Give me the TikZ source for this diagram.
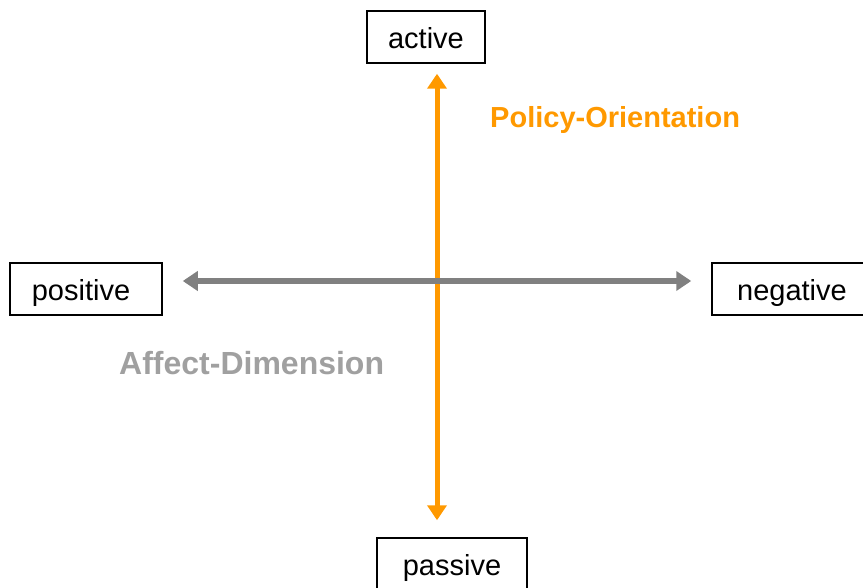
\documentclass[tikz,border=0pt]{standalone}
\usepackage{fontspec}
\setmainfont{Liberation Sans}
\usepackage{xcolor}
\usetikzlibrary{arrows.meta}
\definecolor{policyorange}{HTML}{FF9900}
\definecolor{affectgray}{HTML}{808080}
\definecolor{labelgray}{HTML}{A0A0A0}

\begin{document}
\begin{tikzpicture}[x=1pt, y=-1pt,
                    every node/.append style = {font = \fontsize{29}{34}\selectfont},
                    pole/.style = {draw, line width = 1.5pt, inner sep = 0pt, text height = 25pt, text depth = 2pt},
                    axis/.style = {line width = #1, {Triangle[length=15pt,width=19pt]}-{Triangle[length=15pt,width=19pt]}},
                    axislabel/.style = {anchor = base west, inner sep = 0pt}]
                \useasboundingbox (0,0) rectangle (863,588);
                \coordinate (cross) at (437,281);
                \node[pole, minimum width = 118pt, minimum height = 52pt] (active) at (426,37) {active};
                \node[pole, minimum width = 150pt, minimum height = 52pt] (passive) at (452,564) {passive};
                \node[pole, minimum width = 152pt, minimum height = 52pt] (positive) at (86,289) {positive\hspace*{10pt}};
                \node[pole, minimum width = 160pt, minimum height = 52pt] (negative) at (792,289) {negative};
                % vertical axis first, the grey one lies over it
                \draw[axis = 5pt, policyorange, shorten < = 10pt, shorten > = 17pt]
                    (active.south -| cross) -- (passive.north -| cross);
                \draw[axis = 6pt, affectgray, shorten < = 20pt, shorten > = 20pt]
                    (positive.east |- cross) -- (negative.west |- cross);
                \node[axislabel, text = policyorange, font = \fontsize{29}{34}\selectfont\bfseries] (policy) at (490,128) {Policy-Orientation};
                \node[axislabel, text = labelgray, font = \fontsize{32}{38}\selectfont\bfseries] (affect) at (119,374) {Affect-Dimension};
                \end{tikzpicture}
\end{document}
